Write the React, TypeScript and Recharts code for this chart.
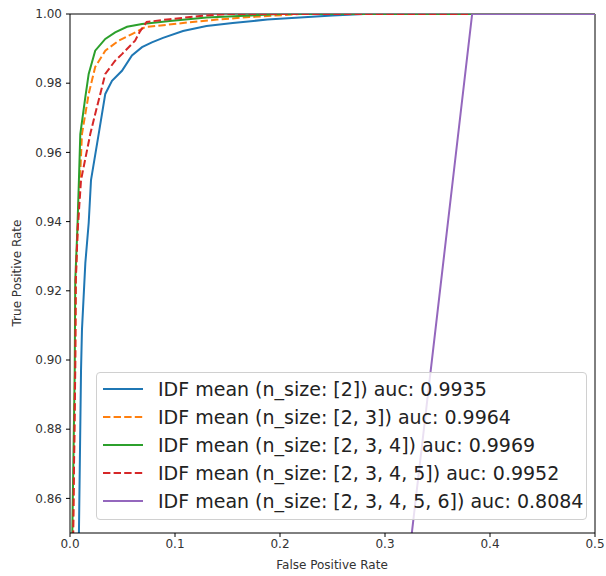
import { LineChart, Line, XAxis, YAxis, ReferenceLine } from 'recharts';

// ROC points (fpr, tpr)
const blueFpr = [0, 0.0065, 0.0085, 0.0105, 0.0114, 0.0146, 0.0178, 0.02, 0.0273, 0.0336, 0.04, 0.0495, 0.059, 0.0686, 0.078, 0.0886, 0.1076, 0.13, 0.155, 0.188, 0.219, 0.25, 0.28, 1];
const blueTpr = [0, 0.8, 0.85, 0.897, 0.9087, 0.928, 0.9396, 0.952, 0.9653, 0.9769, 0.9807, 0.9836, 0.988, 0.9904, 0.9918, 0.9931, 0.9951, 0.9965, 0.9974, 0.9984, 0.999, 0.9996, 1, 1];

const orangeFpr = [0, 0.002, 0.003, 0.0048, 0.0055, 0.0072, 0.0095, 0.0114, 0.0178, 0.024, 0.0336, 0.0464, 0.059, 0.0717, 0.1076, 0.14, 0.171, 0.22, 1];
const orangeTpr = [0, 0.8, 0.85, 0.897, 0.923, 0.9376, 0.952, 0.9653, 0.9769, 0.9847, 0.9894, 0.9923, 0.9942, 0.9962, 0.9974, 0.9984, 0.9991, 1, 1];

const greenFpr = [0, 0.0015, 0.0022, 0.0045, 0.005, 0.007, 0.0085, 0.0098, 0.0146, 0.0178, 0.024, 0.0336, 0.043, 0.0543, 0.0686, 0.095, 0.13, 0.2, 1];
const greenTpr = [0, 0.8, 0.85, 0.897, 0.923, 0.9376, 0.952, 0.9653, 0.976, 0.9827, 0.9894, 0.9928, 0.9947, 0.9963, 0.9971, 0.998, 0.999, 1, 1];

const redFpr = [0, 0.002, 0.003, 0.005, 0.0055, 0.0073, 0.0105, 0.0193, 0.024, 0.0305, 0.0336, 0.043, 0.0495, 0.062, 0.0667, 0.073, 0.095, 0.124, 0.15, 1];
const redTpr = [0, 0.8, 0.85, 0.897, 0.923, 0.9376, 0.952, 0.9653, 0.9711, 0.9789, 0.9827, 0.9865, 0.9884, 0.9923, 0.995, 0.9977, 0.9985, 0.9994, 1, 1];

const purpleFpr = [0, 0.383, 1];
const purpleTpr = [0, 1, 1];

const xTicks = [0, 0.1, 0.2, 0.3, 0.4, 0.5];
const yTicks = [0.86, 0.88, 0.9, 0.92, 0.94, 0.96, 0.98, 1.0];

const series = [
  { name: 'IDF mean (n_size: [2]) auc: 0.9935', fpr: blueFpr, tpr: blueTpr, color: '#1f77b4', dash: undefined },
  { name: 'IDF mean (n_size: [2, 3]) auc: 0.9964', fpr: orangeFpr, tpr: orangeTpr, color: '#ff7f0e', dash: '7.4 3.2' },
  { name: 'IDF mean (n_size: [2, 3, 4]) auc: 0.9969', fpr: greenFpr, tpr: greenTpr, color: '#2ca02c', dash: undefined },
  { name: 'IDF mean (n_size: [2, 3, 4, 5]) auc: 0.9952', fpr: redFpr, tpr: redTpr, color: '#d62728', dash: '7.4 3.2' },
  { name: 'IDF mean (n_size: [2, 3, 4, 5, 6]) auc: 0.8084', fpr: purpleFpr, tpr: purpleTpr, color: '#9467bd', dash: undefined },
];

const toRows = (fpr: number[], tpr: number[]) => fpr.map((x, i) => ({ x, y: tpr[i] }));

const FONT = '"DejaVu Sans", sans-serif';

// matplotlib-style legend, semi transparent frame over the plot
function LegendBox() {
  return (
    <div
      style={{
        position: 'absolute',
        left: 96,
        top: 372,
        zIndex: 5,
        width: 491,
        boxSizing: 'border-box',
        background: 'rgba(255,255,255,0.8)',
        border: '1px solid #d0d0d0',
        borderRadius: 4,
        padding: '2px 0 4px',
        fontFamily: FONT,
        fontSize: 19,
        color: '#222',
      }}
    >
      {series.map((s) => (
        <div key={s.name} style={{ display: 'flex', alignItems: 'center', height: 28, whiteSpace: 'nowrap' }}>
          <svg width={61} height={28} style={{ flexShrink: 0 }}>
            <line x1={6} x2={46} y1={14} y2={14} stroke={s.color} strokeWidth={2} strokeDasharray={s.dash} />
          </svg>
          <span>{s.name}</span>
        </div>
      ))}
    </div>
  );
}

export default function App() {
  return (
    <div style={{ position: 'absolute', left: 0, top: 0, width: 606, height: 576, fontFamily: FONT }}>
      <LineChart width={606} height={576} margin={{ top: 14, right: 11, left: 0, bottom: 0 }}>
        <XAxis
          type="number"
          dataKey="x"
          domain={[0, 0.5]}
          allowDataOverflow
          ticks={xTicks}
          tickFormatter={(v: number) => v.toFixed(1)}
          height={43}
          stroke="#000"
          tickSize={4}
          tickMargin={2}
          tick={{ fill: '#333', fontSize: 12, fontFamily: FONT }}
          label={() => (
            <text x={332} y={569} textAnchor="middle" fontSize={12} fill="#333" fontFamily={FONT}>
              False Positive Rate
            </text>
          )}
        />
        <YAxis
          type="number"
          dataKey="y"
          domain={[0.85, 1]}
          allowDataOverflow
          ticks={yTicks}
          tickFormatter={(v: number) => v.toFixed(2)}
          width={70}
          stroke="#000"
          tickSize={4}
          tickMargin={4}
          tick={{ fill: '#333', fontSize: 12, fontFamily: FONT }}
          label={() => (
            <text
              x={21}
              y={273}
              transform="rotate(-90 21 273)"
              textAnchor="middle"
              fontSize={12}
              fill="#333"
              fontFamily={FONT}
            >
              True Positive Rate
            </text>
          )}
        />
        <ReferenceLine y={1} stroke="#000" strokeWidth={1} />
        <ReferenceLine x={0.5} stroke="#000" strokeWidth={1} />
        {series.map((s) => (
          <Line
            key={s.name}
            data={toRows(s.fpr, s.tpr)}
            dataKey="y"
            name={s.name}
            type="linear"
            stroke={s.color}
            strokeWidth={2}
            strokeDasharray={s.dash}
            dot={false}
            activeDot={false}
            isAnimationActive={false}
          />
        ))}
      </LineChart>
      <LegendBox />
    </div>
  );
}
